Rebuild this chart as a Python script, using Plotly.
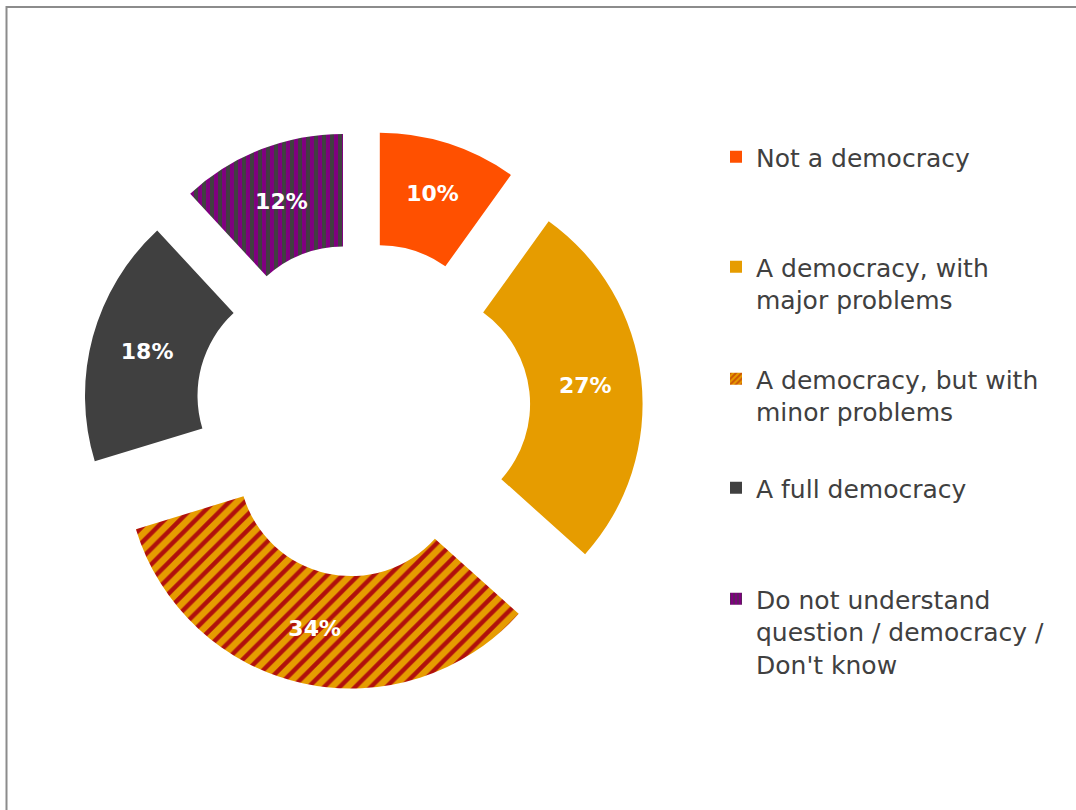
import plotly.graph_objects as go

# Survey answers: how respondents describe their country's political system
categories = [
    "Not a democracy",
    "A democracy, with major problems",
    "A democracy, but with minor problems",
    "A full democracy",
    "Do not understand question / democracy / Don't know",
]
legend_labels = [
    "Not a democracy",
    "A democracy, with<br>major problems",
    "A democracy, but with<br>minor problems",
    "A full democracy",
    "Do not understand<br>question / democracy /<br>Don't know",
]
shares = [10, 27, 34, 18, 12]

# Slice styling: base colour, hatch shape and hatch colour
base_colors = ["#FF5000", "#E69C00", "#E69C00", "#404040", "#7F007F"]
hatch_shapes = ["", "", "/", "", "|"]
hatch_colors = ["#FF5000", "#E69C00", "#B0100C", "#404040", "#404040"]
hatch_sizes = [8, 8, 11, 8, 8]
hatch_solidity = [0.3, 0.3, 0.4, 0.3, 0.5]

W, H = 1076, 810
cx, cy, R = 363, 410, 225          # donut centre and outer radius (px)
pull = 0.244                        # exploded offset as a fraction of radius
half = R * (1 + pull)

fig = go.Figure()

fig.add_trace(go.Pie(
    labels=categories,
    values=shares,
    hole=0.5,
    sort=False,
    direction="clockwise",
    rotation=0,
    pull=[pull] * len(shares),
    marker=dict(
        colors=base_colors,
        line=dict(width=0),
        pattern=dict(
            shape=hatch_shapes,
            fgcolor=hatch_colors,
            bgcolor=base_colors,
            size=hatch_sizes,
            solidity=hatch_solidity,
            fillmode="replace",
        ),
    ),
    texttemplate="%{value}%",
    textposition="inside",
    insidetextorientation="horizontal",
    insidetextfont=dict(family="DejaVu Sans", size=22, color="white", weight="bold"),
    hovertemplate="%{label}: %{value}%<extra></extra>",
    showlegend=False,
    domain=dict(
        x=[(cx - half) / W, (cx + half) / W],
        y=[(H - cy - half) / H, (H - cy + half) / H],
    ),
))

# Legend entries, one legend box per answer so each can sit at its own height
legend_tops = [158, 268, 380, 489, 600]   # centre of first text line (px)
legend_keys = ["legend", "legend2", "legend3", "legend4", "legend5"]
legend_layout = {}
for i, name in enumerate(legend_labels):
    fig.add_trace(go.Bar(
        x=[None], y=[None],
        name=name,
        marker=dict(
            color=base_colors[i],
            line=dict(width=0),
            pattern=dict(
                shape=hatch_shapes[i],
                fgcolor=hatch_colors[i],
                bgcolor=base_colors[i],
                size=5,
                solidity=0.5,
            ),
        ),
        legend=legend_keys[i],
        showlegend=True,
        hoverinfo="skip",
    ))
    legend_layout[legend_keys[i]] = dict(
        x=716 / W,
        y=1 - (legend_tops[i] - 24) / H,
        xanchor="left",
        yanchor="top",
        bgcolor="rgba(0,0,0,0)",
        borderwidth=0,
        valign="top",
        font=dict(family="DejaVu Sans", size=25, color="#404040"),
        itemclick=False,
        itemdoubleclick=False,
    )

fig.update_layout(
    width=W,
    height=H,
    margin=dict(l=0, r=0, t=0, b=0),
    paper_bgcolor="white",
    plot_bgcolor="rgba(0,0,0,0)",
    xaxis=dict(visible=False, domain=[0, 0.01]),
    yaxis=dict(visible=False, domain=[0, 0.01]),
    shapes=[
        dict(
            type="rect", xref="paper", yref="paper",
            x0=6.5 / W, x1=1.02, y0=-0.02, y1=1 - 7 / H,
            line=dict(color="#8C8C8C", width=2),
            fillcolor="rgba(0,0,0,0)",
            layer="below",
        )
    ],
    **legend_layout,
)

fig.write_html("out.html")
